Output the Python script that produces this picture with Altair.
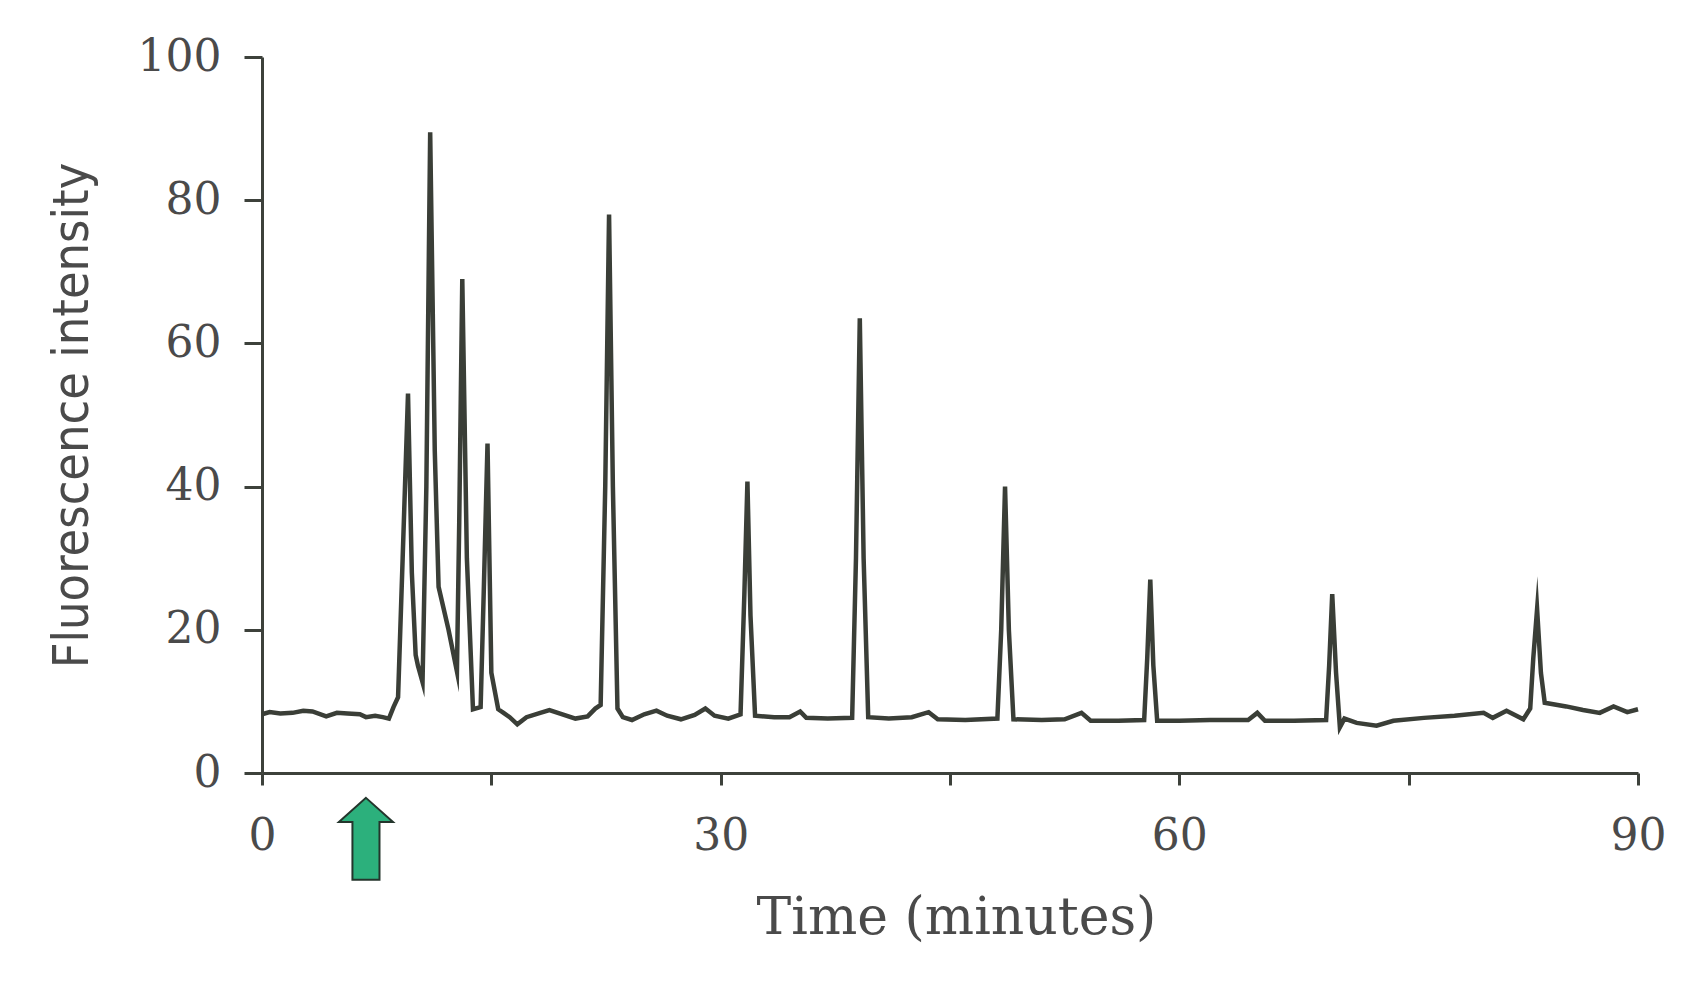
import altair as alt
import pandas as pd

# Chromatogram trace: time (minutes) and fluorescence intensity
time_min = [
    0, 0.5, 1.2, 2.0, 2.7, 3.3, 4.2, 4.9, 5.6, 6.4, 6.8, 7.4, 7.9, 8.3, 8.6, 8.9,
    9.2, 9.55, 9.8, 10.05, 10.2, 10.5, 10.75, 11.0, 11.3, 11.55, 12.2, 12.75,
    12.9, 13.1, 13.4, 13.8, 14.3, 14.5, 14.75, 15.0, 15.45,
    15.8, 16.2, 16.7, 17.3, 18.2, 18.8, 19.5, 20.5, 21.3, 21.8, 22.15,
    22.45, 22.7, 22.95, 23.25, 23.6, 24.2, 25.0, 25.8, 26.5, 27.4, 28.3, 29.0, 29.6,
    30.5, 31.3, 31.55, 31.75, 31.95, 32.25, 33.5, 34.5, 35.2, 35.6, 37.0, 38.6,
    38.85, 39.1, 39.35, 39.65, 41.0, 42.5, 43.6, 44.2, 46.0, 48.1,
    48.35, 48.6, 48.85, 49.15, 51.0, 52.5, 53.6, 54.2, 56.0, 57.7,
    57.9, 58.1, 58.3, 58.55, 60.0, 62.0, 64.5, 65.1, 65.6, 67.5, 69.6,
    69.8, 70.0, 70.25, 70.5, 70.8, 71.6, 72.9, 74.0, 76.0, 78.0, 79.9, 80.5,
    81.4, 82.5, 82.95, 83.15, 83.4, 83.65, 83.9, 85.3, 86.4, 87.5, 88.4, 89.3, 90.0,
]
intensity = [
    8.2, 8.5, 8.3, 8.4, 8.7, 8.6, 7.9, 8.4, 8.3, 8.2, 7.8, 8.0, 7.8, 7.6, 9.2, 10.6,
    30.0, 53.0, 28.0, 16.5, 15.0, 12.7, 40.0, 89.5, 45.0, 26.0, 20.0, 14.2,
    35.0, 69.0, 30.0, 8.9, 9.2, 25.0, 46.0, 14.0, 8.9,
    8.4, 7.8, 6.8, 7.8, 8.4, 8.8, 8.3, 7.6, 7.9, 9.0, 9.5,
    40.0, 78.0, 40.0, 9.0, 7.8, 7.4, 8.2, 8.7, 8.0, 7.5, 8.1, 9.0, 8.0,
    7.6, 8.2, 25.0, 40.7, 22.0, 8.0, 7.8, 7.8, 8.6, 7.7, 7.6, 7.7,
    30.0, 63.5, 30.0, 7.8, 7.6, 7.8, 8.5, 7.5, 7.4, 7.6,
    20.0, 40.0, 20.0, 7.5, 7.4, 7.5, 8.4, 7.3, 7.3, 7.4,
    16.0, 27.0, 15.0, 7.3, 7.3, 7.4, 7.4, 8.4, 7.3, 7.3, 7.4,
    15.0, 25.0, 14.0, 6.4, 7.6, 7.0, 6.6, 7.3, 7.7, 8.0, 8.4, 7.7,
    8.7, 7.5, 9.0, 16.0, 22.9, 14.0, 9.8, 9.3, 8.8, 8.4, 9.3, 8.5, 8.9,
]

# Injection marker (green arrow below the time axis)
arrow_time = [6.8]
arrow_level = [-9.2]

x_ticks = [0, 15, 30, 45, 60, 75, 90]
y_ticks = [0, 20, 40, 60, 80, 100]

trace = pd.DataFrame({"t": time_min, "v": intensity})
arrow = pd.DataFrame({"t": arrow_time, "v": arrow_level})

AX = "#3d413b"
TXT = "#4a4a4a"

x_enc = alt.X(
    "t:Q",
    scale=alt.Scale(domain=[0, 90], nice=False, zero=False),
    axis=alt.Axis(
        values=x_ticks,
        labelExpr="datum.value % 30 == 0 ? datum.label : ''",
        title="Time (minutes)",
        grid=False,
        domainColor=AX, domainWidth=3,
        tickColor=AX, tickWidth=3, tickSize=12,
        labelFont="DejaVu Serif", labelFontSize=44, labelColor=TXT,
        labelBaseline="alphabetic", labelPadding=64,
        labelFlush=False,
        titleFont="DejaVu Serif", titleFontSize=52, titleFontWeight="normal",
        titleColor=TXT, titleX=694, titleY=160, titleBaseline="alphabetic",
        titleAlign="center",
    ),
)
y_enc = alt.Y(
    "v:Q",
    scale=alt.Scale(domain=[0, 100], nice=False, zero=False),
    axis=alt.Axis(
        values=y_ticks,
        title="Fluorescence intensity",
        grid=False,
        domainColor=AX, domainWidth=3,
        tickColor=AX, tickWidth=3, tickSize=18,
        labelFont="DejaVu Serif", labelFontSize=44, labelColor=TXT,
        labelPadding=23, labelFlush=False,
        titleFont="DejaVu Sans Condensed, Liberation Sans", titleFontSize=50,
        titleFontWeight="normal", titleColor=TXT,
        titleAngle=270, titleX=-190, titleY=358,
        titleAlign="center", titleBaseline="middle",
    ),
)

line = alt.Chart(trace).mark_line(
    color="#3a3e37", strokeWidth=4.5, strokeJoin="miter", strokeMiterLimit=20
).encode(x=x_enc, y=y_enc, order="t:Q")

arrow_path = "M0,-1 L0.66,-0.41 L0.33,-0.41 L0.33,1 L-0.33,1 L-0.33,-0.41 L-0.66,-0.41 Z"
marker = alt.Chart(arrow).mark_point(
    shape=arrow_path, size=6724, filled=True, fill="#2cb07c",
    stroke="#24352c", strokeWidth=2, opacity=1,
).encode(x="t:Q", y="v:Q")

chart = (
    alt.layer(line, marker)
    .properties(
        width=1376,
        height=716,
        padding={"left": 254, "top": 49, "right": 50, "bottom": 190},
        autosize=alt.AutoSizeParams(type="none"),
        background="white",
    )
    .configure_view(stroke=None)
)

chart.save("out.html", embed_options={"renderer": "svg", "actions": False})
